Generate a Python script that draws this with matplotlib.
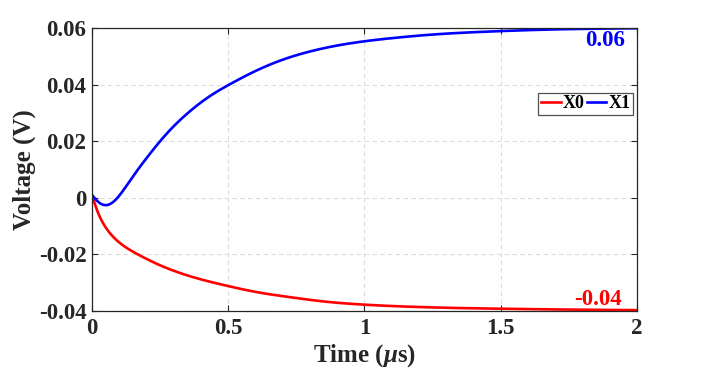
import matplotlib
matplotlib.use("Agg")
import matplotlib.pyplot as plt
import numpy as np

plt.rcParams['font.family'] = ['Liberation Serif', 'DejaVu Serif']
plt.rcParams['font.weight'] = 'bold'
plt.rcParams['mathtext.fontset'] = 'custom'
plt.rcParams['mathtext.rm'] = 'Liberation Serif:bold'
plt.rcParams['mathtext.it'] = 'Liberation Serif:italic:bold'

# X0 (red) readings
t_x0 = [0.0, 0.017, 0.054, 0.115, 0.176, 0.237, 0.359, 0.5, 0.603, 0.725, 0.847,
        1.006, 1.2, 1.5, 1.75, 2.0]
v_x0 = [0.001, -0.0040, -0.0110, -0.0169, -0.0204, -0.0233, -0.0277, -0.0312,
        -0.0333, -0.0351, -0.0366, -0.0378, -0.0386, -0.0392, -0.0395, -0.0397]

# X1 (blue) readings
t_x1 = [0.0, 0.02, 0.05, 0.08, 0.11, 0.15, 0.2, 0.25, 0.3, 0.35, 0.4, 0.45,
        0.5, 0.6, 0.7, 0.8, 0.9, 1.0, 1.1, 1.2, 1.3, 1.4, 1.5, 1.7, 2.0]
v_x1 = [0.001, -0.0012, -0.0026, -0.0013, 0.0020, 0.0075, 0.0140, 0.0200,
        0.0253, 0.0298, 0.0337, 0.0370, 0.0398, 0.0448, 0.0488, 0.0517,
        0.0538, 0.0553, 0.0564, 0.0573, 0.0580, 0.0585, 0.0589, 0.0595,
        0.0599]

x_ticks = [0, 0.5, 1, 1.5, 2]
x_labels = ['0', '0.5', '1', '1.5', '2']
y_ticks = [-0.04, -0.02, 0, 0.02, 0.04, 0.06]
y_labels = ['-0.04', '-0.02', '0', '0.02', '0.04', '0.06']


def spline(tp, vp, n=500):
    # natural cubic spline through the read points
    x = np.asarray(tp, float); y = np.asarray(vp, float)
    N = len(x); h = np.diff(x)
    A = np.zeros((N, N)); r = np.zeros(N)
    A[0, 0] = A[-1, -1] = 1
    for i in range(1, N - 1):
        A[i, i-1] = h[i-1]; A[i, i] = 2*(h[i-1] + h[i]); A[i, i+1] = h[i]
        r[i] = 3*((y[i+1]-y[i])/h[i] - (y[i]-y[i-1])/h[i-1])
    c = np.linalg.solve(A, r)
    b = (y[1:]-y[:-1])/h - h*(2*c[:-1] + c[1:])/3
    d = (c[1:] - c[:-1])/(3*h)
    tt = np.linspace(x[0], x[-1], n)
    idx = np.clip(np.searchsorted(x, tt) - 1, 0, N - 2)
    dx = tt - x[idx]
    return tt, y[idx] + b[idx]*dx + c[idx]*dx**2 + d[idx]*dx**3


fig = plt.figure(figsize=(7.05, 3.69), dpi=100)
ax = fig.add_axes([0.1305, 0.1572, 0.773, 0.767])

tx, vx = spline(t_x0, v_x0)
ax.plot(tx, vx, color='#ff0000', lw=1.9, label='X0')
tx, vx = spline(t_x1, v_x1)
ax.plot(tx, vx, color='#0000ff', lw=1.9, label='X1')

ax.set_xlim(0, 2)
ax.set_ylim(-0.04, 0.06)
ax.set_xticks(x_ticks)
ax.set_xticklabels(x_labels)
ax.set_yticks(y_ticks)
ax.set_yticklabels(y_labels)
ax.tick_params(direction='in', length=4, width=0.8, top=True, right=True,
               labelsize=16.5, colors='#262626', pad=4)
ax.tick_params(axis='x', pad=5)
for lab in ax.get_xticklabels() + ax.get_yticklabels():
    lab.set_fontweight('bold')
for sp in ax.spines.values():
    sp.set_color('#262626')
    sp.set_linewidth(0.9)
ax.grid(True, ls=(0, (4, 3)), color='#dcdcdc', lw=0.8)

ax.set_xlabel(r'Time ($\mu$s)', fontsize=18, fontweight='bold', color='#262626', labelpad=2)
ax.set_ylabel('Voltage (V)', fontsize=18, fontweight='bold', color='#262626', labelpad=2)

ax.text(1.955, 0.0555, '0.06', color='#0000ff', fontsize=16.5,
        fontweight='bold', ha='right', va='center')
ax.text(1.945, -0.0358, '-0.04', color='#ff0000', fontsize=16.5,
        fontweight='bold', ha='right', va='center')

leg = ax.legend(loc='upper right', bbox_to_anchor=(0.9925, 0.771), ncol=2,
                fontsize=13, frameon=True, fancybox=False, handlelength=1.1,
                handletextpad=0.1, columnspacing=0.1, borderpad=0.15,
                borderaxespad=0.0)
leg.get_frame().set_edgecolor('#262626')
leg.get_frame().set_linewidth(0.9)
for txt in leg.get_texts():
    txt.set_fontweight('bold')

fig.savefig('out.png', dpi=100)
